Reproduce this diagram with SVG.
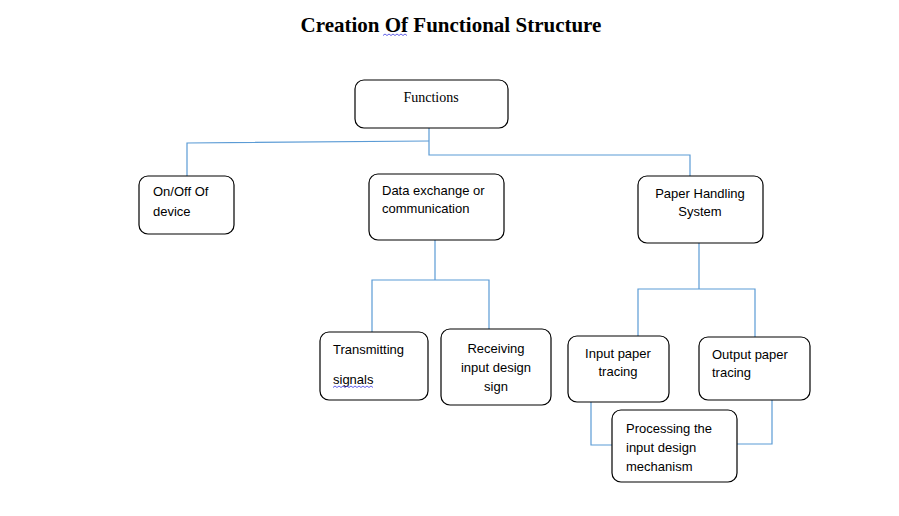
<svg xmlns="http://www.w3.org/2000/svg" width="899" height="516" viewBox="0 0 899 516">
<style>
.box{fill:#fff;stroke:#000;stroke-width:1.2}
.t{font-family:"Liberation Sans",Arial,sans-serif;font-size:13px;fill:#000}
.c{text-anchor:middle}
.ln{fill:none;stroke:#5b9bd5;stroke-width:1.2}
.sq{fill:none;stroke:#3a3adf;stroke-width:0.8}
</style>
<rect width="899" height="516" fill="#fff"/>
<text x="451" y="32" font-family="'Liberation Serif','Times New Roman',serif" font-weight="bold" font-size="21" text-anchor="middle">Creation Of Functional Structure</text>
<path class="sq" d="M383 35.5 l2 -1.5 l2 1.5 l2 -1.5 l2 1.5 l2 -1.5 l2 1.5 l2 -1.5 l2 1.5 l2 -1.5 l2 1.5 l2 -1.5 l2 1.5"/>
<g id="connectors">
<path class="ln" d="M429 128 V155 H690 V176"/>
<path class="ln" d="M429 141 L187 143 V176"/>
<path class="ln" d="M435 240 V280 H372 V332 M435 280 H489 V329"/>
<path class="ln" d="M699 243 V289 H638 V336 M699 289 H755 V337"/>
<path class="ln" d="M591 402 V445 H612"/>
<path class="ln" d="M772 400 V444 H737"/>
</g>
<g id="functions">
<rect class="box" x="355" y="80" width="153" height="48" rx="9"/>
<text x="431" y="102" font-family="'Liberation Serif','Times New Roman',serif" font-size="14" text-anchor="middle">Functions</text>
</g>
<g id="onoff">
<rect class="box" x="139" y="176" width="95" height="58" rx="9"/>
<text class="t" x="153" y="196">On/Off Of</text>
<text class="t" x="153" y="216">device</text>
</g>
<g id="data">
<rect class="box" x="369" y="174" width="135" height="66" rx="9"/>
<text class="t" x="382" y="195">Data exchange or</text>
<text class="t" x="382" y="213">communication</text>
</g>
<g id="paper">
<rect class="box" x="638" y="176" width="125" height="67" rx="9"/>
<text class="t c" x="700" y="198">Paper Handling</text>
<text class="t c" x="700" y="216">System</text>
</g>
<g id="transmitting">
<rect class="box" x="320" y="332" width="108" height="68" rx="9"/>
<text class="t" x="333" y="354">Transmitting</text>
<text class="t" x="333" y="384">signals</text>
<path class="sq" d="M333 387.5 l2 -1.5 l2 1.5 l2 -1.5 l2 1.5 l2 -1.5 l2 1.5 l2 -1.5 l2 1.5 l2 -1.5 l2 1.5 l2 -1.5 l2 1.5 l2 -1.5 l2 1.5 l2 -1.5 l2 1.5 l2 -1.5 l2 1.5 l2 -1.5 l2 1.5"/>
</g>
<g id="receiving">
<rect class="box" x="441" y="329" width="110" height="76" rx="9"/>
<text class="t c" x="496" y="353">Receiving</text>
<text class="t c" x="496" y="372">input design</text>
<text class="t c" x="496" y="391">sign</text>
</g>
<g id="input">
<rect class="box" x="568" y="336" width="101" height="66" rx="9"/>
<text class="t c" x="618" y="358">Input paper</text>
<text class="t c" x="618" y="376">tracing</text>
</g>
<g id="output">
<rect class="box" x="699" y="337" width="111" height="63" rx="9"/>
<text class="t" x="712" y="359">Output paper</text>
<text class="t" x="712" y="377">tracing</text>
</g>
<g id="processing">
<rect class="box" x="612" y="410" width="125" height="72" rx="9"/>
<text class="t" x="626" y="433">Processing the</text>
<text class="t" x="626" y="452">input design</text>
<text class="t" x="626" y="471">mechanism</text>
</g>
</svg>
